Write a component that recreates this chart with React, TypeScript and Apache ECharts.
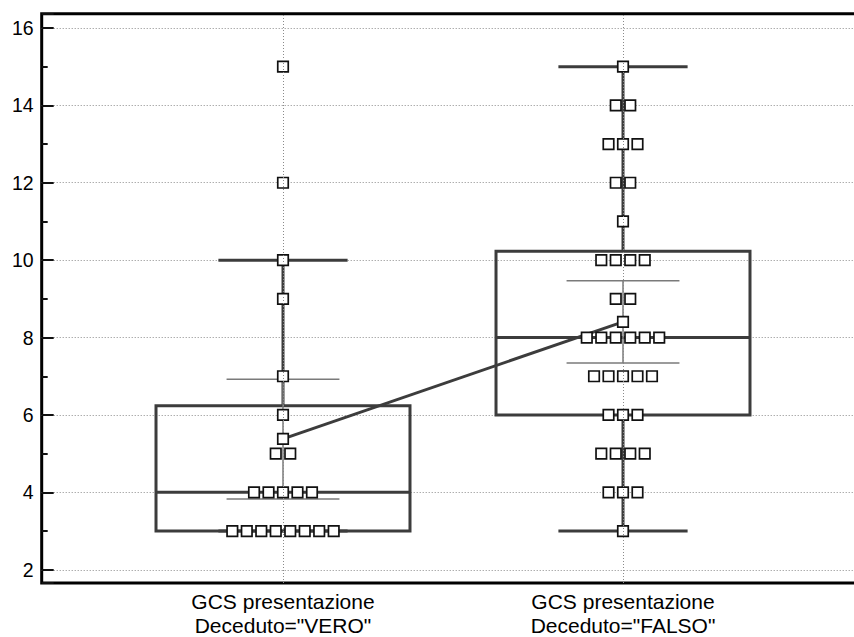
import React, { useEffect, useRef } from "react";
import * as echarts from "echarts";

// ---- data ----
const CATEGORY_X = [1, 2];
const CATEGORY_LABELS = ['GCS presentazione\nDeceduto="VERO"', 'GCS presentazione\nDeceduto="FALSO"'];

// individual observations: value rows and how many points sit on each row
const VERO_VALUES = [3, 4, 5, 6, 7, 9, 10, 12, 15];
const VERO_COUNTS = [8, 5, 2, 1, 1, 1, 1, 1, 1];
const FALSO_VALUES = [3, 4, 5, 6, 7, 8, 9, 10, 11, 12, 13, 14, 15];
const FALSO_COUNTS = [1, 3, 4, 3, 5, 6, 2, 4, 1, 2, 3, 2, 1];

// box statistics: [whiskerLow, q1, median, q3, whiskerHigh]
const VERO_BOX = [3, 3, 4, 6.24, 10];
const FALSO_BOX = [3, 6, 8, 10.23, 15];

// confidence interval of the mean: [low, high]
const VERO_CI = [3.83, 6.92];
const FALSO_CI = [7.34, 9.47];

// axis extents
const Y_MIN = 1.658;
const Y_MAX = 16.368;
const X_MIN = 0.2903;
const X_MAX = 2.7088;

// ---- layout constants (data units on the x axis) ----
const DOT_STEP = 0.0426;
const BOX_HALF = 0.3735;
const CAP_HALF = 0.19;
const CI_HALF = 0.166;

const DARK = "#3c3c3c";
const FONT = "'Liberation Sans', Arial, sans-serif";

function mean(values: number[], counts: number[]) {
  let s = 0, n = 0;
  values.forEach((v, i) => { s += v * counts[i]; n += counts[i]; });
  return s / n;
}

function dots(cx: number, values: number[], counts: number[]) {
  const out: number[][] = [];
  values.forEach((v, i) => {
    const n = counts[i];
    for (let k = 0; k < n; k++) {
      out.push([cx + (k - (n - 1) / 2) * DOT_STEP, v]);
    }
  });
  return out;
}

export default function App() {
  const ref = useRef<HTMLDivElement>(null);
  useEffect(() => {
    if (!ref.current) return;
    const chart = echarts.init(ref.current, undefined, { renderer: "svg" });
    const means = [mean(VERO_VALUES, VERO_COUNTS), mean(FALSO_VALUES, FALSO_COUNTS)];
    const boxData = [
      [CATEGORY_X[0], ...VERO_BOX],
      [CATEGORY_X[1], ...FALSO_BOX],
    ];
    const ciData = [
      [CATEGORY_X[0], ...VERO_CI],
      [CATEGORY_X[1], ...FALSO_CI],
    ];
    const dotData = [
      ...dots(CATEGORY_X[0], VERO_VALUES, VERO_COUNTS),
      ...dots(CATEGORY_X[1], FALSO_VALUES, FALSO_COUNTS),
    ];
    const square = {
      symbol: "rect",
      symbolSize: 10.5,
      itemStyle: { color: "#ffffff", borderColor: "#111111", borderWidth: 1.7, opacity: 1 },
    };

    chart.setOption({
      animation: false,
      backgroundColor: "#ffffff",
      grid: {
        left: 41.7,
        right: 16,
        top: 13.7,
        bottom: 51.7,
        show: true,
        borderColor: "#000000",
        borderWidth: 3,
        backgroundColor: "transparent",
      },
      xAxis: {
        type: "value",
        min: X_MIN,
        max: X_MAX,
        axisLine: { show: false },
        axisTick: { show: false, customValues: CATEGORY_X },
        splitLine: { show: false },
        axisLabel: {
          customValues: CATEGORY_X,
          formatter: (v: number) => {
            const i = CATEGORY_X.indexOf(Math.round(v));
            return i >= 0 ? CATEGORY_LABELS[i] : "";
          },
          color: "#000000",
          fontFamily: FONT,
          fontSize: 21,
          lineHeight: 24,
          margin: 6,
        },
      },
      yAxis: {
        type: "value",
        min: Y_MIN,
        max: Y_MAX,
        splitNumber: 7,
        axisLine: { show: false },
        axisTick: { show: true, inside: true, length: 12, lineStyle: { color: "#111111", width: 2 } },
        minorTick: { show: true, splitNumber: 2, length: 6, lineStyle: { color: "#111111", width: 2 } },
        minorSplitLine: { show: false },
        splitLine: {
          show: true,
          showMinLine: false,
          showMaxLine: false,
          lineStyle: { type: [1, 2], color: "#8a8a8a", width: 1 },
        },
        axisLabel: {
          showMinLabel: false,
          showMaxLabel: false,
          formatter: (v: number) => (Math.abs(v - Math.round(v)) < 1e-6 ? String(Math.round(v)) : ""),
          color: "#000000",
          fontFamily: FONT,
          fontSize: 19.5,
          margin: 8,
        },
      },
      series: [
        {
          type: "scatter",
          data: [],
          z: 1,
          silent: true,
          markLine: {
            silent: true,
            symbol: "none",
            label: { show: false },
            lineStyle: { type: [1, 2], color: "#8a8a8a", width: 1 },
            data: CATEGORY_X.map((x) => ({ xAxis: x })),
          },
        },
        {
          type: "custom",
          z: 2,
          silent: true,
          data: boxData,
          encode: { x: 0, y: [1, 2, 3, 4, 5] },
          renderItem: (_params: any, api: any) => {
            const x = api.value(0);
            const lo = api.value(1), q1 = api.value(2), med = api.value(3), q3 = api.value(4), hi = api.value(5);
            const cx = api.coord([x, med])[0];
            const yLo = api.coord([x, lo])[1];
            const yQ1 = api.coord([x, q1])[1];
            const yMed = api.coord([x, med])[1];
            const yQ3 = api.coord([x, q3])[1];
            const yHi = api.coord([x, hi])[1];
            const hb = api.size([BOX_HALF, 0])[0];
            const hc = api.size([CAP_HALF, 0])[0];
            const st = { stroke: DARK, lineWidth: 3, fill: "none" };
            const line = (x1: number, y1: number, x2: number, y2: number) => ({
              type: "line",
              shape: { x1, y1, x2, y2 },
              style: st,
            });
            return {
              type: "group",
              children: [
                line(cx, yQ3, cx, yHi),
                line(cx, yQ1, cx, yLo),
                line(cx - hc, yHi, cx + hc, yHi),
                line(cx - hc, yLo, cx + hc, yLo),
                {
                  type: "rect",
                  shape: { x: cx - hb, y: yQ3, width: 2 * hb, height: yQ1 - yQ3 },
                  style: st,
                },
                line(cx - hb, yMed, cx + hb, yMed),
              ],
            };
          },
        },
        {
          type: "custom",
          z: 2,
          silent: true,
          data: ciData,
          encode: { x: 0, y: [1, 2] },
          renderItem: (_params: any, api: any) => {
            const x = api.value(0);
            const a = api.coord([x, api.value(1)]);
            const b = api.coord([x, api.value(2)]);
            const h = api.size([CI_HALF, 0])[0];
            const st = { stroke: "#7a7a7a", lineWidth: 1.5, fill: "none" };
            return {
              type: "group",
              children: [
                { type: "line", shape: { x1: a[0], y1: a[1], x2: b[0], y2: b[1] }, style: st },
                { type: "line", shape: { x1: a[0] - h, y1: a[1], x2: a[0] + h, y2: a[1] }, style: st },
                { type: "line", shape: { x1: b[0] - h, y1: b[1], x2: b[0] + h, y2: b[1] }, style: st },
              ],
            };
          },
        },
        {
          type: "line",
          z: 3,
          silent: true,
          data: CATEGORY_X.map((x, i) => [x, means[i]]),
          showSymbol: false,
          symbol: "none",
          lineStyle: { color: DARK, width: 3 },
        },
        {
          type: "scatter",
          z: 4,
          silent: true,
          data: dotData,
          ...square,
        },
        {
          type: "scatter",
          z: 5,
          silent: true,
          data: CATEGORY_X.map((x, i) => [x, means[i]]),
          ...square,
        },
      ],
    });
    return () => chart.dispose();
  }, []);
  return (
    <div
      style={{ position: "absolute", left: 0, top: 0, width: 854, height: 637, overflow: "hidden", background: "#fff" }}
    >
      <div ref={ref} style={{ width: 880, height: 637 }} />
    </div>
  );
}
